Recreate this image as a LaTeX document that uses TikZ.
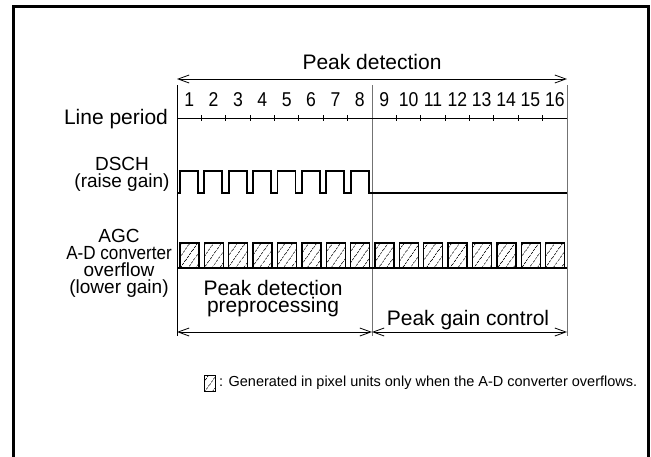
\documentclass[tikz,border=0pt]{standalone}
\usepackage{fontspec}
\setmainfont{Liberation Sans}
\usetikzlibrary{arrows.meta,patterns.meta}
\begin{document}
\begin{tikzpicture}[x=1pt,y=-1pt,
  lbl/.style={font=\fontsize{19}{17}\selectfont, align=center, inner sep=0pt},
  big/.style={font=\fontsize{21}{17}\selectfont, align=center, inner sep=0pt},
  num/.style={font=\fontsize{20}{18}\selectfont, inner sep=0pt},
  note/.style={font=\fontsize{14.5}{16}\selectfont, inner sep=0pt, anchor=west},
  dimarrow/.style={line width=0.8pt, {Straight Barb[length=11pt,width=8pt]}-{Straight Barb[length=11pt,width=8pt]}},
  sepline/.style={line width=1pt, black!55},
  wave/.style={line width=1.8pt, line join=miter},
  hbox/.style={line width=1.3pt, pattern={Lines[angle=55,distance=6.5pt,line width=0.6pt]}},
  frame/.style={line width=3pt}]
\useasboundingbox (0,0) rectangle (651,456);
% outer frame
\coordinate (fbl) at (13.5,470);
\coordinate (ftl) at (13.5,6.5);
\coordinate (ftr) at (648,6.5);
\coordinate (fbr) at (648,470);
\draw[frame] (fbl) -- (ftl) -- (ftr) -- (fbr);
% axis coordinates
\coordinate (Ltop) at (177,85);   \coordinate (Lbot) at (177,336);
\coordinate (Mtop) at (372,85);   \coordinate (Mbot) at (372,336);
\coordinate (Rtop) at (567,85);   \coordinate (Rbot) at (567,336);
\draw[line width=1pt] (Ltop) -- (Lbot);
\draw[sepline] (Mtop) -- (Mbot);
\draw[sepline] (Rtop) -- (Rbot);
% peak detection arrow
\coordinate (pdA) at (177,79); \coordinate (pdB) at (567,79);
\draw[dimarrow] (pdA) -- (pdB);
\node[big] (pd) at (372,62) {Peak detection};
% line period axis
\coordinate (lpA) at (177,118); \coordinate (lpB) at (567,118);
\draw[line width=0.8pt] (lpA) -- (lpB);
\foreach \k in {1,...,7,9,10,...,15}{
  \coordinate (t\k) at ({177+\k*24.375},115);
  \draw[line width=0.8pt] (t\k) -- ++(0,6);
}
\foreach \k in {1,...,16}{
  \node[num] (n\k) at ({177+(\k-0.5)*24.375},100) {\scalebox{0.88}[1]{\k}};
}
% labels
\node[big] (llp) at (116,119) {Line period};
\node[lbl] (ldsch) at (122,174) {DSCH\\(raise gain)};
\node[lbl] (lagc) at (119,263) {AGC\\\scalebox{0.9}[1]{A-D converter}\\overflow\\(lower gain)};
% DSCH waveform
\draw[wave] (177,193) foreach \k in {0,...,7} {
   -- ({177+\k*24.375+3},193) -- ++(0,-22) -- ({177+\k*24.375+21},171) -- ++(0,22) } -- (567,193);
% AGC boxes
\coordinate (bA) at (177,268); \coordinate (bB) at (567,268);
\draw[line width=1.8pt] (bA) -- (bB);
\foreach \k in {0,...,15}{
  \draw[hbox] ({177+\k*24.375+3},243) rectangle ++(19,25);
}
% bottom arrows
\coordinate (b1) at (177,332); \coordinate (b2) at (372,332); \coordinate (b3) at (567,332);
\draw[dimarrow] (b1) -- (b2);
\draw[dimarrow] (b2) -- (b3);
\node[big] (pdp) at (273,299) {Peak detection\\preprocessing};
\node[big] (pgc) at (468,320) {Peak gain control};
% note
\draw[hbox, line width=1pt] (204,375) rectangle ++(11,16);
\node[note] (nt) at (219,383) {: Generated in pixel units only when the A-D converter overflows.};
\end{tikzpicture}
\end{document}
